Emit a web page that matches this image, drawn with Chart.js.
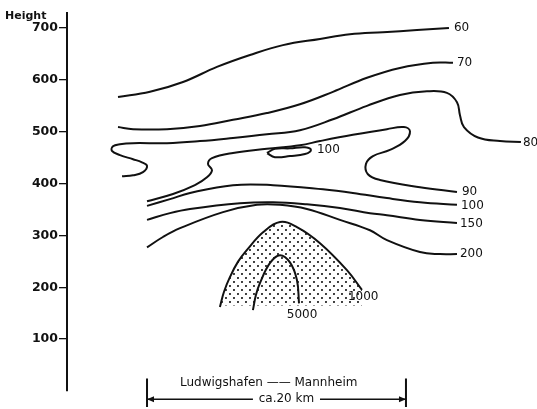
<!DOCTYPE html>
<html>
<head>
<meta charset="utf-8">
<script src="https://cdn.jsdelivr.net/npm/chart.js@4/dist/chart.umd.min.js"></script>
<style>
  html, body { margin: 0; padding: 0; background: #fff; }
</style>
</head>
<body>
<canvas id="contourChart" width="537" height="409"></canvas>
<script>
// distance along the section (km from the height axis) and height of each isoline
let km60 = [3.94, 6.41, 8.96, 11.58, 14.13, 16.68, 19.54, 21.85, 24.40, 27.03, 29.50];
let h60 = [567, 577, 596, 625, 648, 667, 679, 688, 692, 696, 700];

let km70 = [3.94, 5.10, 7.72, 10.27, 12.82, 15.44, 17.99, 20.54, 23.17, 25.71, 28.26, 29.81];
let h70 = [509, 505, 505, 511, 523, 536, 553, 577, 604, 623, 633, 633];

let km80 = [4.25, 5.10, 5.87, 6.18, 5.79, 5.10, 4.09, 3.47, 3.55, 4.09, 5.10, 7.72, 10.27, 12.82,
            15.44, 17.99, 20.54, 23.17, 25.71, 27.80, 29.34, 30.12, 30.35, 30.66, 31.74, 33.44, 35.06];
let h80 = [414, 416, 422, 434, 441, 447, 455, 463, 472, 476, 478, 478, 482, 488,
           495, 503, 524, 550, 571, 578, 575, 557, 532, 509, 489, 482, 480];

let km90 = [6.18, 8.19, 9.88, 10.81, 11.20, 10.89, 11.20, 12.82, 15.44, 17.99, 19.54, 22.08,
            24.71, 26.02, 26.49, 26.10, 24.94, 23.63, 23.09, 23.24, 24.17, 27.26, 30.12];
let h90 = [366, 380, 397, 412, 426, 438, 449, 459, 467, 474, 482, 494,
           505, 509, 501, 482, 465, 453, 438, 418, 407, 393, 384];

// closed 100 cell in the middle
let kmCell = [15.44, 16.06, 17.22, 18.38, 18.84, 18.38, 17.22, 16.06, 15.44];
let hCell = [459, 467, 468, 470, 465, 457, 453, 451, 459];

let km100 = [6.18, 7.95, 9.50, 12.82, 15.91, 19.77, 22.08, 24.71, 27.26, 30.12];
let h100 = [357, 370, 382, 397, 397, 389, 382, 372, 364, 359];

let km150 = [6.18, 7.95, 9.50, 13.36, 15.91, 18.53, 21.08, 23.40, 24.71, 27.26, 30.12];
let h150 = [330, 343, 351, 362, 364, 360, 353, 343, 339, 330, 324];

let km200 = [6.18, 7.41, 8.73, 12.05, 14.67, 16.45, 18.53, 21.08, 23.40, 24.71, 27.26, 28.80, 30.12];
let h200 = [277, 297, 314, 345, 359, 359, 351, 330, 310, 291, 268, 264, 264];

let km1000 = [11.81, 12.12, 12.59, 13.20, 13.90, 15.14, 16.45, 17.76, 19.54, 21.62, 22.78];
let h1000 = [162, 191, 220, 249, 272, 306, 326, 316, 285, 233, 195];
let hDotsBase = 165;

let km5000 = [14.36, 14.59, 14.90, 15.68, 16.45, 17.22, 17.76, 17.92];
let h5000 = [156, 185, 208, 247, 262, 248, 214, 169];

// scale bar under the section: Ludwigshafen - Mannheim, ca. 20 km
let barKm = [6.18, 26.18];
let barGapKm = [14.36, 19.54];
let barH = -15.8;
let barTickH = [24, -31];

let heightTicks = [100, 200, 300, 400, 500, 600, 700];

function pts(xs, ys) {
    return xs.map((x, i) => ({ x: x, y: ys[i] }));
}

// dotted shading for the area above 1000
let dotCanvas = document.createElement('canvas');
dotCanvas.width = 8;
dotCanvas.height = 8;
let dctx = dotCanvas.getContext('2d');
dctx.fillStyle = '#111';
dctx.beginPath(); dctx.arc(2, 2, 1.05, 0, Math.PI * 2); dctx.fill();
dctx.beginPath(); dctx.arc(6, 6, 1.05, 0, Math.PI * 2); dctx.fill();

let ctx = document.getElementById('contourChart').getContext('2d');
let dotPattern = ctx.createPattern(dotCanvas, 'repeat');

function isoline(xs, ys, tag, extra) {
    return Object.assign({
        data: pts(xs, ys),
        borderColor: '#111',
        borderWidth: 2,
        pointRadius: 0,
        tension: 0.4,
        fill: false,
        tag: tag,
        tagAt: xs.length - 1,
        tagDx: 4,
        tagDy: 0,
        tagAlign: 'left',
    }, extra || {});
}

const contourLabels = {
    id: 'contourLabels',
    afterDatasetsDraw(chart) {
        let c = chart.ctx;
        let xs = chart.scales.x, ys = chart.scales.y;
        c.save();
        c.fillStyle = '#111';
        c.textBaseline = 'middle';
        c.font = '12px "DejaVu Sans"';
        chart.data.datasets.forEach((ds, i) => {
            if (!ds.tag) return;
            let p = chart.getDatasetMeta(i).data[ds.tagAt];
            c.textAlign = ds.tagAlign;
            c.fillText(ds.tag, p.x + ds.tagDx, p.y + ds.tagDy);
        });

        // arrow heads of the scale bar
        let yb = ys.getPixelForValue(barH);
        let xl = xs.getPixelForValue(barKm[0]), xr = xs.getPixelForValue(barKm[1]);
        c.beginPath();
        c.moveTo(xl, yb); c.lineTo(xl + 7, yb - 3); c.lineTo(xl + 7, yb + 3); c.closePath();
        c.moveTo(xr, yb); c.lineTo(xr - 7, yb - 3); c.lineTo(xr - 7, yb + 3); c.closePath();
        c.fill();

        c.font = '12px "DejaVu Sans"';
        c.textAlign = 'center';
        let mid = (barKm[0] + barKm[1]) / 2;
        c.fillText('Ludwigshafen —— Mannheim', xs.getPixelForValue(mid - 0.6), ys.getPixelForValue(-barH));
        c.fillText('ca.20 km', xs.getPixelForValue((barGapKm[0] + barGapKm[1]) / 2), yb);
        c.font = 'bold 11px "DejaVu Sans"';
        c.textAlign = 'left';
        c.fillText('Height', 5, chart.chartArea.top + 3);
        c.restore();
    }
};

let contourChart = new Chart(ctx, {
    type: 'line',
    data: {
        datasets: [
            isoline(km60, h60, '60', { tagDx: 5 }),
            isoline(km70, h70, '70'),
            isoline(km80, h80, '80', { tagDx: 2, tagDy: 1 }),
            isoline(km90, h90, '90', { tagDx: 5 }),
            isoline(kmCell, hCell, '100', { tagAt: 4, tagDx: 6 }),
            isoline(km100, h100, '100', { tagDx: 4, tagDy: 1 }),
            isoline(km150, h150, '150', { tagDx: 3, tagDy: 1 }),
            isoline(km200, h200, '200', { tagDx: 3 }),
            isoline(km1000, h1000, '1000', {
                tagDx: -14, tagDy: 7,
                fill: { value: hDotsBase },
                backgroundColor: dotPattern,
            }),
            isoline(km5000, h5000, '5000', { tagDx: 3, tagDy: 12, tagAlign: 'center' }),
            // scale bar
            {
                data: pts([barKm[0], barGapKm[0]], [barH, barH]),
                borderColor: '#111', borderWidth: 1.4, tension: 0, pointRadius: 0, clip: false,
            },
            {
                data: pts([barGapKm[1], barKm[1]], [barH, barH]),
                borderColor: '#111', borderWidth: 1.4, tension: 0, pointRadius: 0, clip: false,
            },
            {
                data: pts([barKm[0], barKm[0]], barTickH),
                borderColor: '#111', borderWidth: 2, pointRadius: 0, clip: false,
            },
            {
                data: pts([barKm[1], barKm[1]], barTickH),
                borderColor: '#111', borderWidth: 2, pointRadius: 0, clip: false,
            },
        ]
    },
    options: {
        responsive: false,
        animation: false,
        devicePixelRatio: 1,
        layout: {
            padding: { top: 13, bottom: 18, left: 0, right: 0 }
        },
        plugins: {
            legend: { display: false },
            tooltip: { enabled: false },
        },
        scales: {
            x: {
                type: 'linear',
                display: false,
                min: 0,
                max: 36.3,
            },
            y: {
                min: 0,
                max: 729,
                afterFit(scale) {
                    scale.width = 67;
                },
                afterBuildTicks(scale) {
                    scale.ticks = heightTicks.map(v => ({ value: v }));
                },
                ticks: {
                    color: '#111',
                    padding: 1,
                    font: {
                        family: 'DejaVu Sans',
                        size: 12.5,
                        weight: 'bold',
                    }
                },
                grid: {
                    drawOnChartArea: false,
                    drawTicks: true,
                    tickLength: 8,
                    color: '#111',
                    lineWidth: 1.3,
                },
                border: {
                    display: true,
                    color: '#111',
                    width: 2,
                },
            }
        }
    },
    plugins: [contourLabels]
});
</script>
</body>
</html>
